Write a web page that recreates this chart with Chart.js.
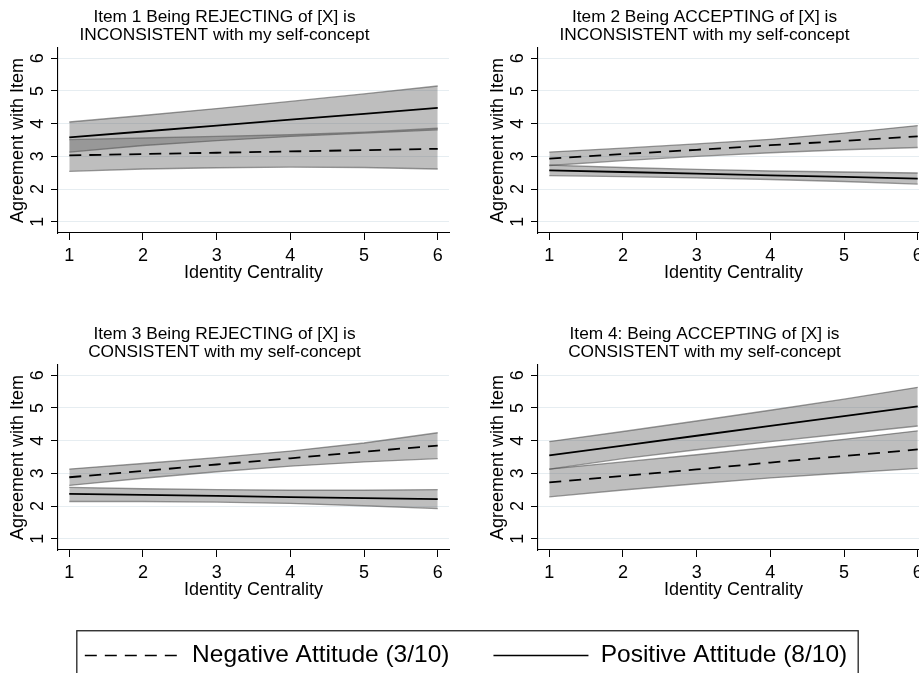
<!DOCTYPE html>
<html>
<head>
<meta charset="utf-8">
<script src="https://cdn.jsdelivr.net/npm/chart.js@4/dist/chart.umd.min.js"></script>
<style>
html, body { margin: 0; padding: 0; background: #ffffff; overflow: hidden; width: 919px; height: 673px; }
canvas { position: absolute; }
</style>
</head>
<body>
<canvas id="c1" width="460" height="300" style="left:0px;top:0px"></canvas>
<canvas id="c2" width="460" height="300" style="left:480px;top:0px"></canvas>
<canvas id="c3" width="460" height="300" style="left:0px;top:317px"></canvas>
<canvas id="c4" width="460" height="300" style="left:480px;top:317px"></canvas>
<canvas id="cl" width="919" height="200" style="left:0px;top:590px"></canvas>
<script>
// ---- data ----
const centrality = [1, 2, 3, 4, 5, 6];
const xTicks = [1, 2, 3, 4, 5, 6];
const yTicks = [1, 2, 3, 4, 5, 6];
const seriesNames = ['Negative Attitude (3/10)', 'Positive Attitude (8/10)'];
const xTitle = 'Identity Centrality';
const yTitle = 'Agreement with Item';

const title1 = ['Item 1 Being REJECTING of [X] is', 'INCONSISTENT with my self-concept'];
const title2 = ['Item 2 Being ACCEPTING of [X] is', 'INCONSISTENT with my self-concept'];
const title3 = ['Item 3 Being REJECTING of [X] is', 'CONSISTENT with my self-concept'];
const title4 = ['Item 4: Being ACCEPTING of [X] is', 'CONSISTENT with my self-concept'];

// Item 1
const item1Neg   = [3.03, 3.07, 3.11, 3.15, 3.19, 3.23];
const item1NegLo = [2.54, 2.61, 2.65, 2.67, 2.66, 2.61];
const item1NegHi = [3.51, 3.56, 3.61, 3.66, 3.74, 3.86];
const item1Pos   = [3.58, 3.76, 3.94, 4.12, 4.30, 4.48];
const item1PosLo = [3.13, 3.33, 3.48, 3.61, 3.71, 3.81];
const item1PosHi = [4.05, 4.25, 4.46, 4.68, 4.91, 5.15];
// Item 2
const item2Neg   = [2.93, 3.07, 3.20, 3.34, 3.47, 3.61];
const item2NegLo = [2.72, 2.87, 3.00, 3.11, 3.20, 3.27];
const item2NegHi = [3.13, 3.25, 3.38, 3.52, 3.71, 3.94];
const item2Pos   = [2.57, 2.52, 2.47, 2.42, 2.37, 2.32];
const item2PosLo = [2.41, 2.38, 2.34, 2.29, 2.23, 2.15];
const item2PosHi = [2.73, 2.66, 2.60, 2.55, 2.52, 2.49];
// Item 3
const item3Neg   = [2.88, 3.07, 3.27, 3.46, 3.66, 3.85];
const item3NegLo = [2.63, 2.85, 3.05, 3.22, 3.35, 3.45];
const item3NegHi = [3.13, 3.30, 3.48, 3.68, 3.93, 4.24];
const item3Pos   = [2.37, 2.34, 2.31, 2.27, 2.24, 2.21];
const item3PosLo = [2.14, 2.14, 2.12, 2.08, 2.01, 1.92];
const item3PosHi = [2.57, 2.53, 2.50, 2.48, 2.48, 2.50];
// Item 4
const item4Neg   = [2.72, 2.92, 3.12, 3.33, 3.53, 3.73];
const item4NegLo = [2.28, 2.49, 2.68, 2.86, 3.01, 3.15];
const item4NegHi = [3.13, 3.35, 3.57, 3.80, 4.04, 4.30];
const item4Pos   = [3.55, 3.85, 4.15, 4.45, 4.75, 5.05];
const item4PosLo = [3.13, 3.45, 3.72, 3.97, 4.21, 4.45];
const item4PosHi = [3.97, 4.28, 4.60, 4.93, 5.27, 5.63];

// ---- styling ----
const FONT = "'Liberation Sans', Arial, Helvetica, sans-serif";
Chart.defaults.font.family = FONT;
Chart.defaults.color = '#000';

const BAND_FILL = 'rgba(100,100,100,0.42)';
const BAND_LINE = 'rgba(70,70,70,0.55)';
const DASH = [12, 8];

function pts(values) {
  return centrality.map((x, i) => ({ x: x, y: values[i] }));
}

function bandDs(values, fill, order) {
  return {
    data: pts(values),
    borderColor: BAND_LINE,
    borderWidth: 1.4,
    backgroundColor: BAND_FILL,
    fill: fill,
    pointRadius: 0,
    tension: 0,
    order: order
  };
}

function meanDs(label, values, dash) {
  return {
    label: label,
    data: pts(values),
    borderColor: '#000',
    borderWidth: 1.8,
    borderDash: dash,
    backgroundColor: 'rgba(0,0,0,0)',
    fill: false,
    pointRadius: 0,
    tension: 0,
    order: 0
  };
}

function makePanel(id, title, neg, negLo, negHi, pos, posLo, posHi) {
  const ctx = document.getElementById(id);
  return new Chart(ctx, {
    type: 'line',
    data: {
      datasets: [
        bandDs(negHi, '+1', 2),
        bandDs(negLo, false, 2),
        bandDs(posHi, '+1', 1),
        bandDs(posLo, false, 1),
        meanDs(seriesNames[0], neg, DASH),
        meanDs(seriesNames[1], pos, [])
      ]
    },
    options: {
      responsive: false,
      animation: false,
      events: [],
      layout: { padding: { left: 0, right: 11, top: 0, bottom: 0 } },
      plugins: {
        legend: { display: false },
        tooltip: { enabled: false },
        title: {
          display: true,
          text: title,
          color: '#000',
          font: { size: 17.3, weight: 'normal', lineHeight: 1.04 },
          padding: { top: 8, bottom: 4 }
        }
      },
      scales: {
        x: {
          type: 'linear',
          min: 0.847,
          max: 6.153,
          afterBuildTicks: s => { s.ticks = xTicks.map(v => ({ value: v })); },
          afterFit: s => { s.height = 67; },
          grid: { drawOnChartArea: false, drawTicks: true, tickLength: 7, tickColor: '#000', tickWidth: 1 },
          border: { display: true, color: '#000', width: 1.1 },
          ticks: { color: '#000', font: { size: 18 }, padding: 5, maxRotation: 0, minRotation: 0 },
          title: { display: true, text: xTitle, color: '#000', font: { size: 18 }, padding: { top: 0, bottom: 16 } }
        },
        y: {
          type: 'linear',
          min: 0.654,
          max: 6.315,
          afterBuildTicks: s => { s.ticks = yTicks.map(v => ({ value: v })); },
          afterFit: s => { s.width = 58; },
          grid: { color: '#e6edf1', lineWidth: 1, drawTicks: true, tickLength: 7, tickColor: '#000', tickWidth: 1 },
          border: { display: true, color: '#000', width: 1.1 },
          ticks: { color: '#000', font: { size: 18 }, padding: 8, minRotation: 90, maxRotation: 90, crossAlign: 'center' },
          title: { display: true, text: yTitle, color: '#000', font: { size: 18 }, padding: { top: 7, bottom: 0 } }
        }
      }
    }
  });
}

makePanel('c1', title1, item1Neg, item1NegLo, item1NegHi, item1Pos, item1PosLo, item1PosHi);
makePanel('c2', title2, item2Neg, item2NegLo, item2NegHi, item2Pos, item2PosLo, item2PosHi);
makePanel('c3', title3, item3Neg, item3NegLo, item3NegHi, item3Pos, item3PosLo, item3PosHi);
makePanel('c4', title4, item4Neg, item4NegLo, item4NegHi, item4Pos, item4PosLo, item4PosHi);

// ---- shared legend ----
const legendFrame = {
  id: 'legendFrame',
  afterDraw(chart) {
    const boxes = chart.legend && chart.legend.legendHitBoxes;
    if (!boxes || !boxes.length) return;
    const first = boxes[0];
    const last = boxes[boxes.length - 1];
    const c = chart.ctx;
    c.save();
    c.strokeStyle = '#222';
    c.lineWidth = 1.3;
    c.setLineDash([]);
    const left = first.left - 8;
    const top = first.top - 12.5;
    const right = last.left + last.width + 11;
    c.strokeRect(left, top, right - left, chart.height - top + 20);
    c.restore();
  }
};

new Chart(document.getElementById('cl'), {
  type: 'line',
  data: {
    datasets: [
      { label: seriesNames[0], data: [], borderColor: '#000', borderWidth: 1.6, borderDash: DASH, backgroundColor: 'rgba(0,0,0,0)', pointStyle: 'line' },
      { label: seriesNames[1], data: [], borderColor: '#000', borderWidth: 1.6, borderDash: [], backgroundColor: 'rgba(0,0,0,0)', pointStyle: 'line' }
    ]
  },
  options: {
    responsive: false,
    animation: false,
    events: [],
    layout: { padding: { left: 13, right: 0, top: 9.25, bottom: 0 } },
    scales: { x: { display: false }, y: { display: false } },
    plugins: {
      title: { display: false },
      tooltip: { enabled: false },
      legend: {
        display: true,
        position: 'top',
        align: 'center',
        labels: {
          usePointStyle: true,
          pointStyle: 'line',
          pointStyleWidth: 95,
          color: '#000',
          font: { size: 24.5 },
          padding: 44,
          generateLabels: chart => {
            const items = Chart.defaults.plugins.legend.labels.generateLabels(chart);
            return items.map(item => {
              const ds = chart.data.datasets[item.datasetIndex];
              item.lineDash = ds.borderDash || [];
              item.strokeStyle = ds.borderColor;
              item.lineWidth = ds.borderWidth;
              return item;
            });
          }
        }
      }
    }
  },
  plugins: [legendFrame]
});
</script>
</body>
</html>
